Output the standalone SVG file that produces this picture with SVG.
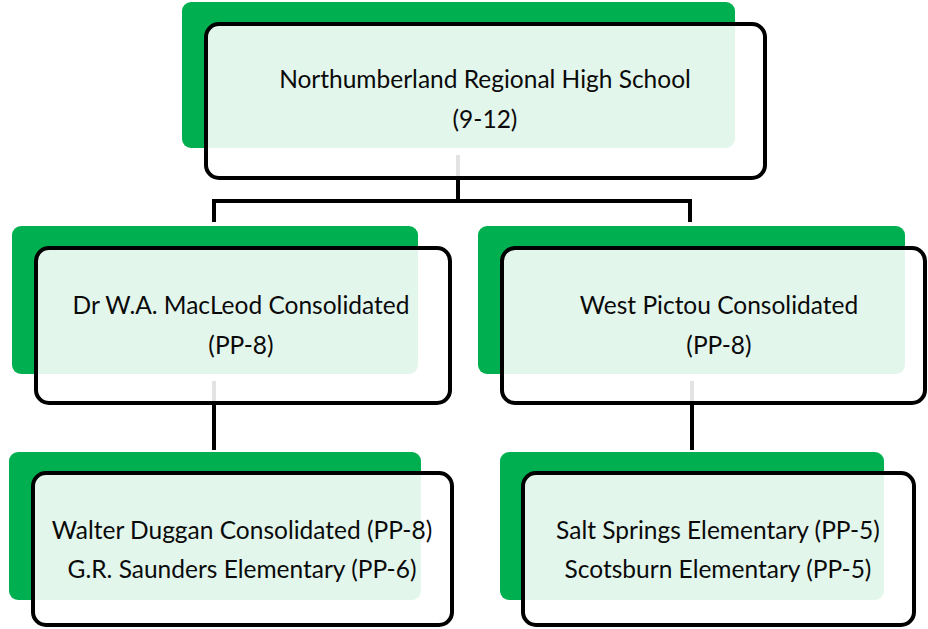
<svg xmlns="http://www.w3.org/2000/svg" width="928" height="629" viewBox="0 0 928 629">
<style>
.bg{fill:#00B050}
.box{fill:#FFFFFF;fill-opacity:0.89;stroke:#000;stroke-width:4}
.t{font-family:Lato,"Liberation Sans",sans-serif;font-size:24.5px;fill:#0A0A0A;text-anchor:middle}
.c{fill:none;stroke:#000;stroke-width:4}
</style>
<rect width="928" height="629" fill="#FFFFFF"/>
<g id="connectors">
<path class="c" d="M458 155 V201 M214 201 H690 M214 199 V222 M690 199 V222"/>
<path class="c" d="M214 381 V450"/>
<path class="c" d="M692 381 V450"/>
</g>
<g id="n1">
<rect class="bg" x="182" y="2" width="553" height="146" rx="9"/>
<rect class="box" x="206" y="24" width="559" height="154" rx="13"/>
<text class="t" x="485" y="88">Northumberland Regional High School</text>
<text class="t" x="485" y="128">(9-12)</text>
</g>
<g id="n2">
<rect class="bg" x="12" y="226" width="406" height="148" rx="9"/>
<rect class="box" x="36" y="248" width="414" height="155" rx="13"/>
<text class="t" x="241" y="314">Dr W.A. MacLeod Consolidated</text>
<text class="t" x="241" y="354">(PP-8)</text>
</g>
<g id="n3">
<rect class="bg" x="478" y="226" width="427" height="148" rx="9"/>
<rect class="box" x="502" y="248" width="423" height="155" rx="13"/>
<text class="t" x="719" y="314">West Pictou Consolidated</text>
<text class="t" x="719" y="354">(PP-8)</text>
</g>
<g id="n4">
<rect class="bg" x="9" y="452" width="412" height="148" rx="9"/>
<rect class="box" x="33" y="473" width="419" height="152" rx="13"/>
<text class="t" x="242" y="539">Walter Duggan Consolidated (PP-8)</text>
<text class="t" x="242" y="578">G.R. Saunders Elementary (PP-6)</text>
</g>
<g id="n5">
<rect class="bg" x="500" y="452" width="384" height="148" rx="9"/>
<rect class="box" x="523" y="473" width="391" height="152" rx="13"/>
<text class="t" x="718" y="539">Salt Springs Elementary (PP-5)</text>
<text class="t" x="718" y="578">Scotsburn Elementary (PP-5)</text>
</g>
</svg>
